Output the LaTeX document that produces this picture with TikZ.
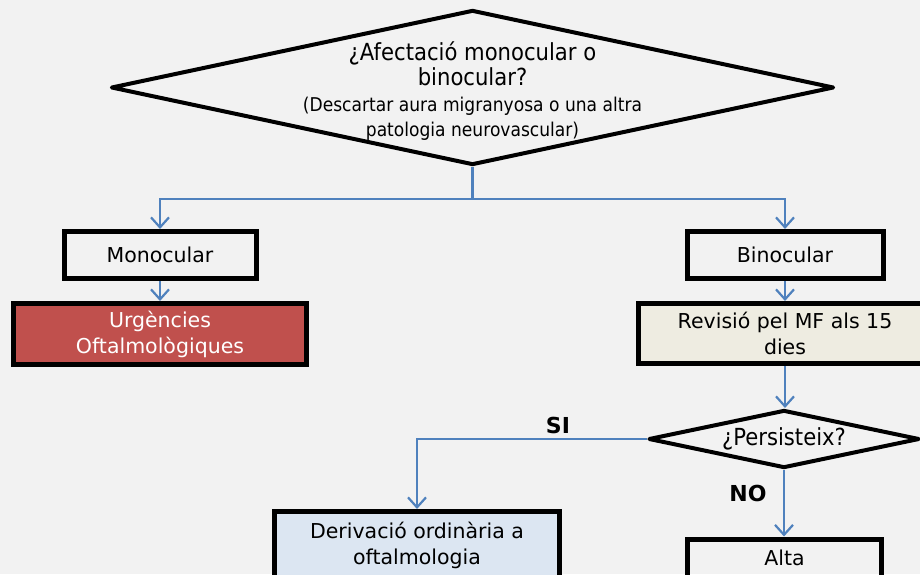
\documentclass[tikz,border=0pt]{standalone}
\usepackage{fontspec}
\setmainfont{DejaVu Sans}
\newfontfamily\narrowfont[FakeStretch=0.9]{DejaVu Sans}
\usepackage{xcolor}
\usetikzlibrary{arrows.meta,shapes.geometric}

\definecolor{linkblue}{RGB}{79,129,189}
\definecolor{urgred}{RGB}{192,80,77}
\definecolor{revbeige}{RGB}{238,236,225}
\definecolor{derblue}{RGB}{220,230,242}
\definecolor{bggrey}{RGB}{242,242,242}

\begin{document}
\begin{tikzpicture}[x=1pt,y=-1pt,%
% common options for the boxes:
box/.style = {rectangle, draw, line width=5pt, align=center, inner sep=0,
            font=\fontsize{20.5}{26}\selectfont},
% common options for the questions:
decision/.style = {diamond, draw, line width=4pt, line join=round, inner sep=0},
asktext/.style = {align=center, inner sep=0, font=\narrowfont\fontsize{23.5}{25.5}\selectfont},
% arrows and answers:
link/.style = {draw=linkblue, line width=2.2pt, -{Straight Barb[length=10pt,width=18pt]}},
answer/.style = {inner sep=0, font=\bfseries\fontsize{22}{24}\selectfont}]

\fill[bggrey] (0,0) rectangle (920,574);
\useasboundingbox (0,0) rectangle (920,574);

\node[decision,minimum width=723pt,minimum height=155pt] (Q0) at (472.5,87.5) {};
\node[asktext] (Q0text) at (472.5,91) {¿Afectació monocular o\\binocular?\\
  {\fontsize{19}{25.5}\selectfont(Descartar aura migranyosa o una altra}\\
  {\fontsize{19}{25.5}\selectfont patologia neurovascular)}};
\coordinate (S0) at (472.5,199);

\node[box,minimum width=192pt,minimum height=47pt] (M1) at (160,255) {Monocular};
\node[box,minimum width=293pt,minimum height=61pt,fill=urgred,text=white] (M2) at (160,334) {Urgències\\Oftalmològiques};

\node[box,minimum width=196pt,minimum height=47pt] (B1) at (785,255) {Binocular};
\node[box,minimum width=293pt,minimum height=60pt,fill=revbeige] (B2) at (785,333.5) {Revisió pel MF als 15\\dies};
\node[decision,minimum width=271pt,minimum height=58pt] (Q1) at (784,439) {};
\node[asktext] (Q1text) at (784,439) {¿Persisteix?};

\node[box,minimum width=285pt,minimum height=67pt,fill=derblue] (D1) at (417,545) {Derivació ordinària a\\oftalmologia};
\node[box,minimum width=194pt,minimum height=38pt] (A1) at (784.5,558) {Alta};

\draw[draw=linkblue,line width=2.2pt] (Q0.south) to (S0);
\draw[link] (S0) -| (M1.north);
\draw[link] (S0) -| (B1.north);
\draw[link] (M1.south) to (M2.north);
\draw[link] (B1.south) to (B2.north);
\draw[link] (B2.south) to (B2.south |- Q1.north);
\draw[link] (Q1.west) -| (D1.north);
\draw[link] (Q1.south) to (Q1.south |- A1.north);

\node[answer] (si) at (558,425) {SI};
\node[answer] (no) at (748,493) {NO};
\end{tikzpicture}
\end{document}
